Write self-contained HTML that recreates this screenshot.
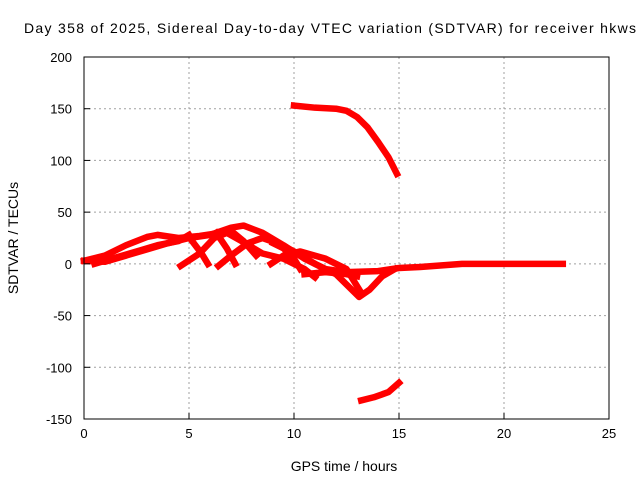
<!DOCTYPE html>
<html><head><meta charset="utf-8"><style>
body{margin:0;background:#fff;}
svg{display:block;font-family:"Liberation Sans",sans-serif;}
</style></head><body>
<svg id="c" width="640" height="480">
<text x="24" y="33" font-size="14" textLength="612" lengthAdjust="spacing">Day 358 of 2025, Sidereal Day-to-day VTEC variation (SDTVAR) for receiver hkws</text>
<text x="344" y="471" font-size="14" text-anchor="middle">GPS time / hours</text>
<text x="0" y="0" font-size="14" text-anchor="middle" transform="translate(18,238) rotate(-90)">SDTVAR / TECUs</text>
<g id="grid"></g><g id="series"></g><g id="axes"></g>
</svg>
<script>
const xTicks=[0,5,10,15,20,25];
const yTicks=[-150,-100,-50,0,50,100,150,200];
const s1=[[10,153],[11,151],[12,150],[12.5,148],[13,142],[13.5,132],[14,118],[14.5,103],[14.9,87]];
const s2=[[13.2,-132],[13.8,-129],[14.5,-124],[15,-115]];
const s3=[[0,3],[1,2],[2,8],[3,14],[4,20],[5,25],[6,28],[7,35],[7.6,37],[8.5,30],[9.5,18],[10.5,5],[11.5,-5],[12.5,-8],[14,-7],[15,-4],[16,-3],[18,0],[20,0],[22.8,0]];
const s4=[[0,3],[1,8],[2,18],[3,26],[3.5,28],[4.5,25],[5.5,27],[6.5,30]];
const s5=[[0.5,0],[1.5,6],[2.5,12],[3.5,18],[4.5,22],[5,28]];
const s6=[[4.6,-2],[5.5,10],[6.2,25],[6.8,30],[7.5,22],[8.5,10],[9.5,5],[10.5,-5],[11,-13]];
const s7=[[5,26],[5.6,10],[5.9,0]];
const s8=[[6.3,30],[6.8,15],[7.2,0]];
const s9=[[6.4,-2],[7,8],[7.8,20],[8.5,25],[9.2,20],[10,12],[11,0],[12,-10],[12.6,-22],[13.1,-32],[13.6,-25],[14.2,-12],[14.8,-5]];
const s10=[[7,32],[7.6,22],[8.2,8]];
const s11=[[8.9,0],[9.5,8],[10.3,12],[11.5,5],[12.5,-5],[13.2,-28]];
const s12=[[9,20],[9.5,15],[10,5],[10.3,-5]];
const s13=[[10.5,-10],[11.5,-8],[12.5,-10],[13,-12]];
const seriesList=[s1,s2,s3,s4,s5,s6,s7,s8,s9,s10,s11,s12,s13];
const L=84,R=609,T=57,B=419,X0=0,X1=25,Y0=-150,Y1=200;
const xs=v=>L+(v-X0)/(X1-X0)*(R-L);
const ys=v=>B-(v-Y0)/(Y1-Y0)*(B-T);
const NS="http://www.w3.org/2000/svg";
const g=document.getElementById('grid'),sg=document.getElementById('series'),ag=document.getElementById('axes');
function mk(tag,at,par){const e=document.createElementNS(NS,tag);for(const k in at)e.setAttribute(k,at[k]);par.appendChild(e);return e;}
xTicks.forEach(t=>{
 if(t>X0&&t<X1){const l=mk('line',{x1:xs(t),x2:xs(t),y1:T,y2:B,stroke:'#a0a0a0','stroke-dasharray':'2,3'},g);
 
 }
 const tk=mk('line',{x1:xs(t),x2:xs(t),y1:B,y2:B-6,stroke:'#000'},ag);
 
 
 const tx=mk('text',{x:xs(t),y:B+19,'font-size':13,'text-anchor':'middle'},ag);tx.textContent=t;
 
 
});
yTicks.forEach(t=>{
 if(t>Y0&&t<Y1){const l=mk('line',{x1:L,x2:R,y1:ys(t),y2:ys(t),stroke:'#a0a0a0','stroke-dasharray':'2,3'},g);
 
 }
 const tk=mk('line',{x1:L,x2:L+6,y1:ys(t),y2:ys(t),stroke:'#000'},ag);
 
 
 const tx=mk('text',{x:L-12,y:ys(t)+5,'font-size':13,'text-anchor':'end'},ag);tx.textContent=t;
 
 
});
const fr=mk('rect',{x:L,y:T,width:R-L,height:B-T,fill:'none',stroke:'#000'},ag);


seriesList.forEach(s=>{
 const p=mk('polyline',{points:s.map(d=>xs(d[0])+','+ys(d[1])).join(' '),fill:'none',stroke:'#ff0000','stroke-width':6.5,'stroke-linejoin':'round','stroke-linecap':'square'},sg);
 
 
});
</script>
</body></html>
